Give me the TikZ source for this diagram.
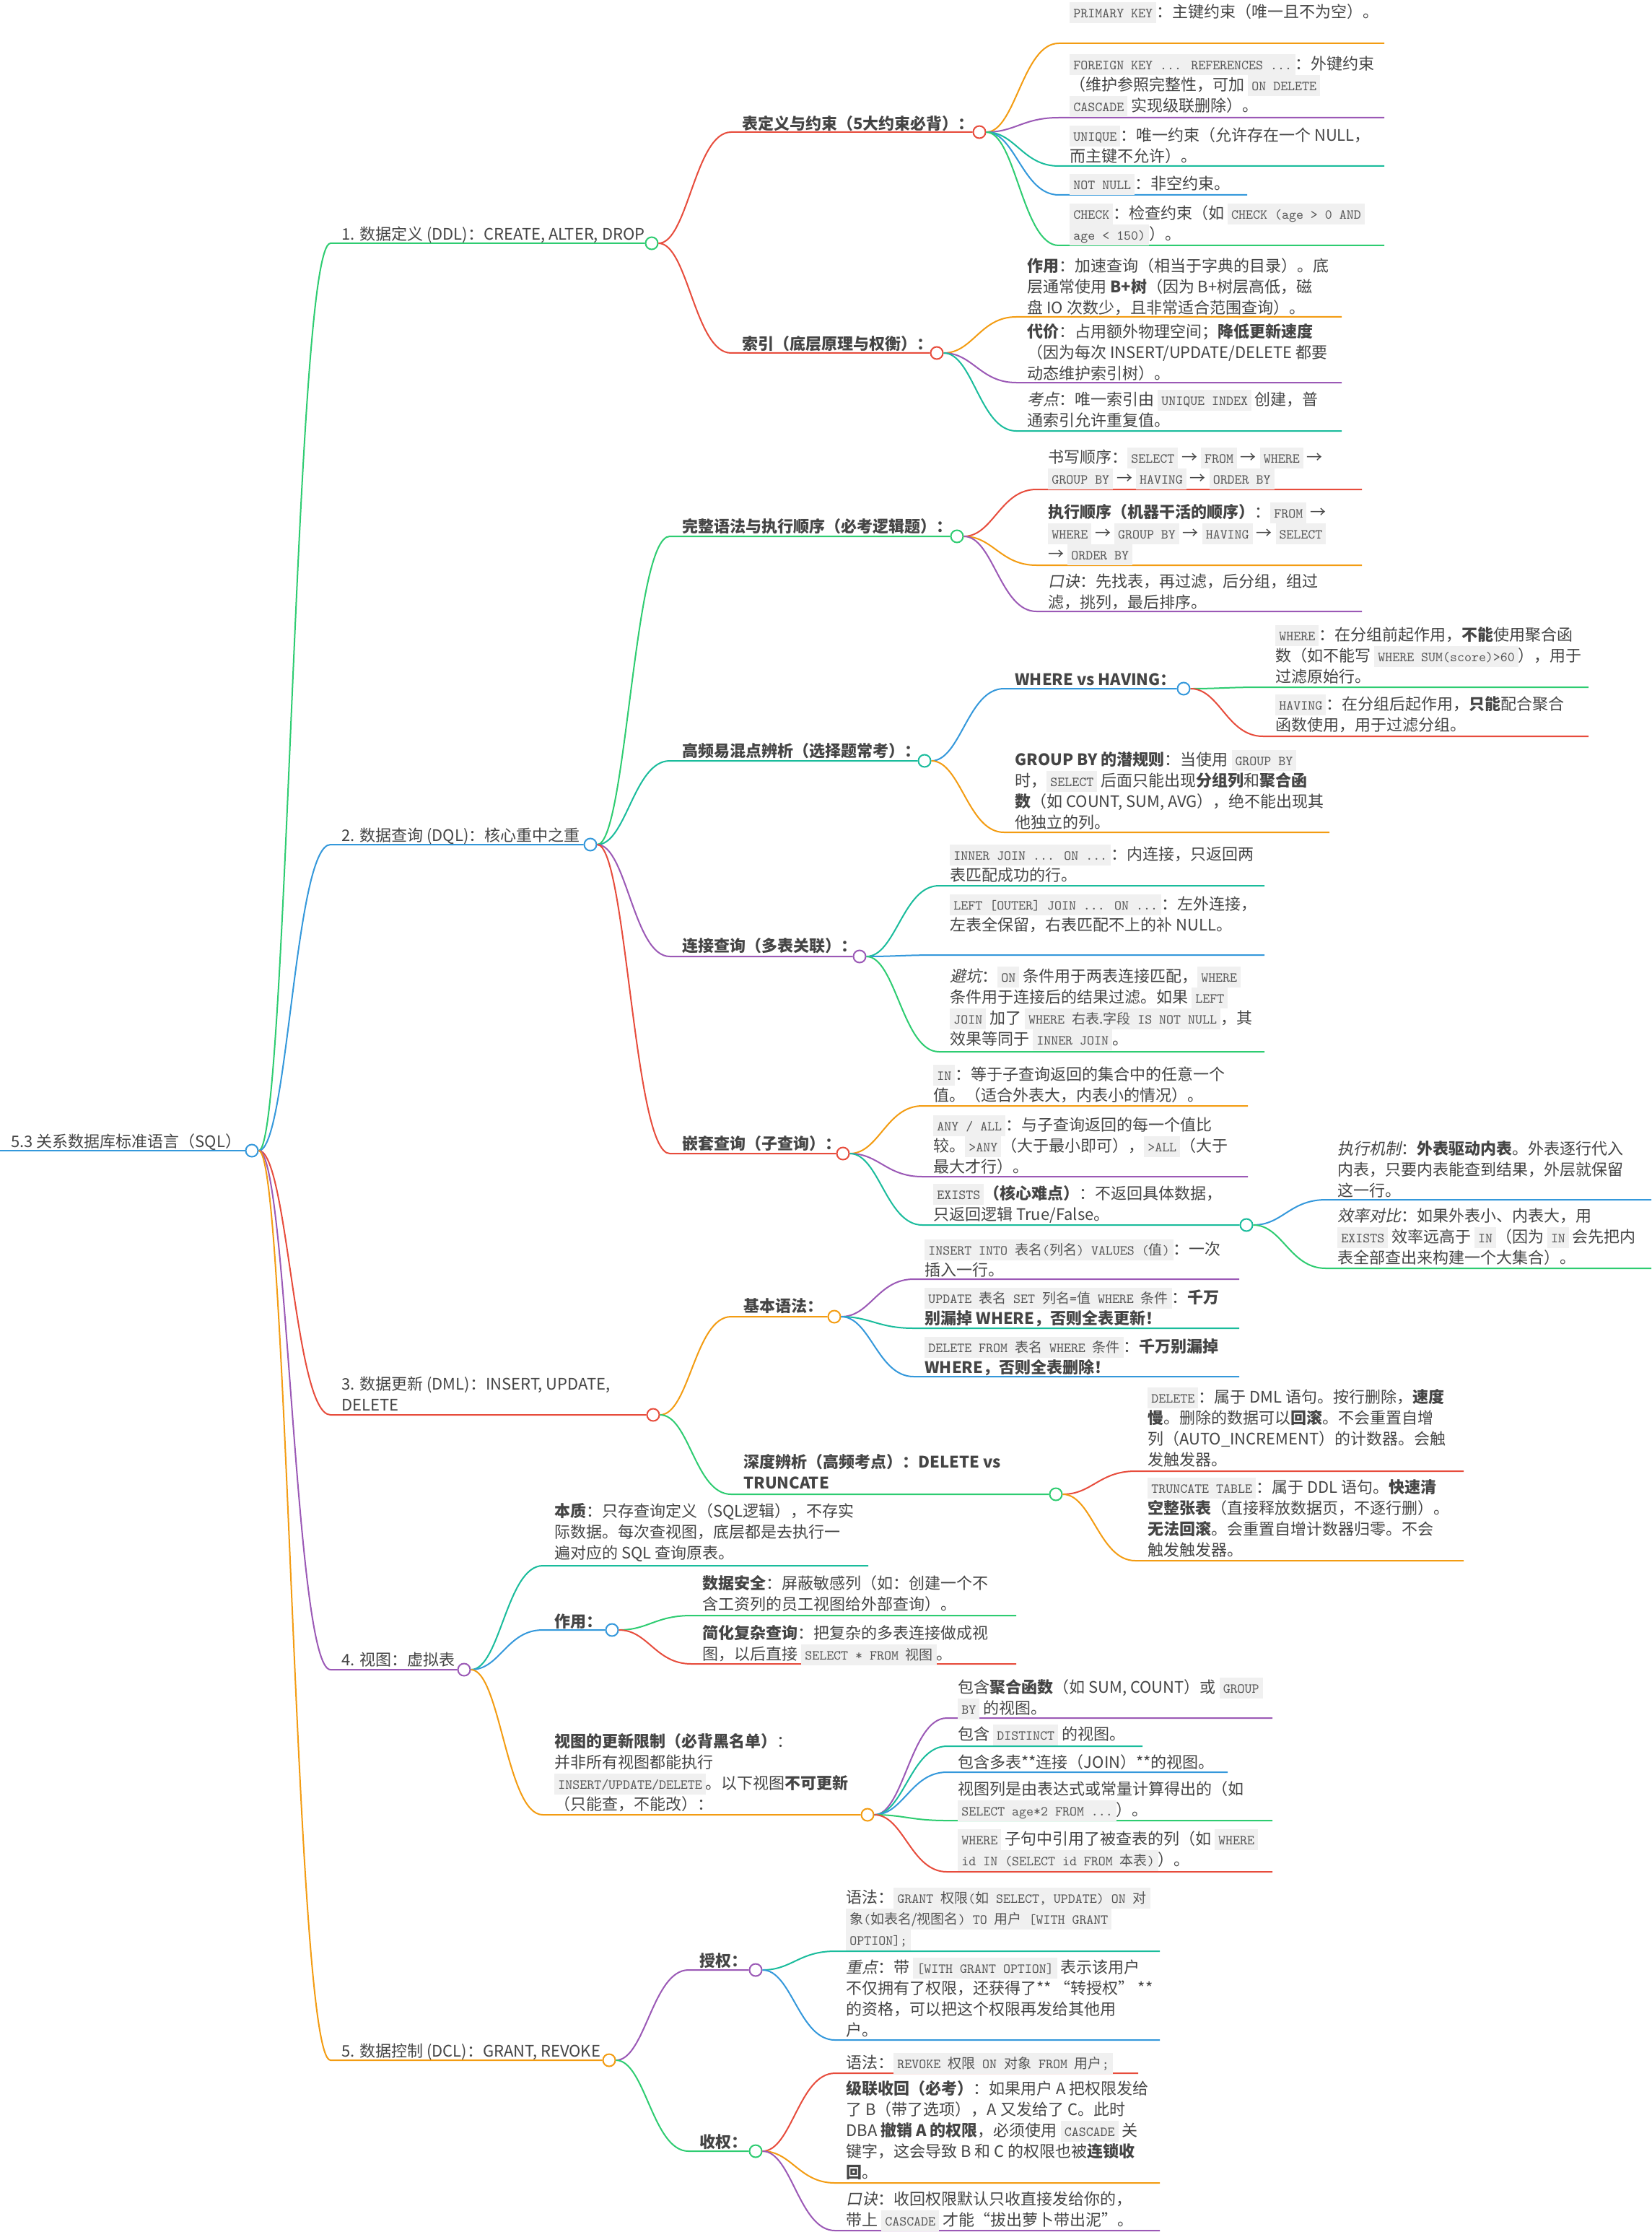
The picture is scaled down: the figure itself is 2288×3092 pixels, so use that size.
\documentclass[tikz,border=0pt]{standalone}
\usepackage{fontspec}
\setmainfont{Noto Sans CJK SC}[AutoFakeSlant=0.2]
\definecolor{cred}{HTML}{E74C3C}
\definecolor{corange}{HTML}{F39C12}
\definecolor{cgreen}{HTML}{2ECC71}
\definecolor{cteal}{HTML}{1ABC9C}
\definecolor{cblue}{HTML}{3498DB}
\definecolor{cpurple}{HTML}{9B59B6}
\definecolor{ink}{HTML}{454545}
\definecolor{codebg}{HTML}{F0F0F0}
\definecolor{codefg}{HTML}{555555}
\newcommand\code[1]{{\fboxsep=0pt\colorbox{codebg}{\rule[-3.8pt]{0pt}{14.5pt}\hspace{2.5pt}\ttfamily\fontsize{9.5}{14.5}\selectfont\color{codefg}#1\hspace{2.5pt}}}}
\newcommand\zh[1]{{\rmfamily #1}}

\begin{document}
\begin{tikzpicture}[x=0.5pt, y=-0.5pt,
  txt/.style={anchor=south west, inner sep=0pt, align=left, text depth=1.5pt,
              text=ink, font=\fontsize{11}{14.5}\selectfont},
  head/.style={txt, font=\fontsize{11}{14.5}\selectfont\bfseries},
  knot/.style={circle, draw, fill=white, line width=1pt, minimum size=8.5pt, inner sep=0pt},
  wire/.style={line width=1pt},
]
\path[use as bounding box, fill=white] (0,0) rectangle (2288,3092);

\coordinate (root) at (0,1594);
\node[knot, draw=cblue] (root-k) at (349,1594) {};
\draw[wire, cblue] (root) -- (root-k);
\node[txt] (root-t) at (15,1593) {5.3 关系数据库标准语言（SQL）};

\coordinate (ddl) at (458,337);
\node[knot, draw=cgreen] (ddl-k) at (903,337) {};
\draw[wire, cgreen] (root-k) .. controls +(50,0) and +(-50,0) .. (ddl) -- (ddl-k);
\node[txt] (ddl-t) at (473,336) {1. 数据定义 (DDL)：CREATE, ALTER, DROP};

\coordinate (tbl) at (1013,183);
\node[knot, draw=cred] (tbl-k) at (1357,183) {};
\draw[wire, cred] (ddl-k) .. controls +(50,0) and +(-50,0) .. (tbl) -- (tbl-k);
\node[head] (tbl-t) at (1028,183) {表定义与约束（5大约束必背）：};

\coordinate (pk) at (1467,60);
\draw[wire, corange] (tbl-k) .. controls +(50,0) and +(-50,0) .. (pk) -- ++(451,0);
\node[txt] (pk-t) at (1482,28) {\code{PRIMARY KEY}：主键约束（唯一且不为空）。};

\coordinate (fk) at (1467,163);
\draw[wire, cpurple] (tbl-k) .. controls +(50,0) and +(-50,0) .. (fk) -- ++(451,0);
\node[txt] (fk-t) at (1482,158) {\code{FOREIGN KEY ... REFERENCES ...}：外键约束\\（维护参照完整性，可加 \code{ON DELETE}\\\code{CASCADE} 实现级联删除）。};

\coordinate (uq) at (1467,230);
\draw[wire, cteal] (tbl-k) .. controls +(50,0) and +(-50,0) .. (uq) -- ++(451,0);
\node[txt] (uq-t) at (1482,228) {\code{UNIQUE}：唯一约束（允许存在一个 NULL，\\而主键不允许）。};

\coordinate (nn) at (1467,270);
\draw[wire, cblue] (tbl-k) .. controls +(50,0) and +(-50,0) .. (nn) -- ++(261,0);
\node[txt] (nn-t) at (1482,266) {\code{NOT NULL}：非空约束。};

\coordinate (ck) at (1467,340);
\draw[wire, cgreen] (tbl-k) .. controls +(50,0) and +(-50,0) .. (ck) -- ++(451,0);
\node[txt] (ck-t) at (1482,336) {\code{CHECK}：检查约束（如 \code{CHECK (age > 0 AND}\\\code{age < 150)}）。};

\coordinate (idx) at (1013,489);
\node[knot, draw=cred] (idx-k) at (1298,489) {};
\draw[wire, cred] (ddl-k) .. controls +(50,0) and +(-50,0) .. (idx) -- (idx-k);
\node[head] (idx-t) at (1028,488) {索引（底层原理与权衡）：};

\coordinate (role) at (1408,439);
\draw[wire, corange] (idx-k) .. controls +(50,0) and +(-50,0) .. (role) -- ++(451,0);
\node[txt] (role-t) at (1423,438) {\textbf{作用}：加速查询（相当于字典的目录）。底\\层通常使用 \textbf{B+树}（因为 B+树层高低，磁\\盘 IO 次数少，且非常适合范围查询）。};

\coordinate (cost) at (1408,530);
\draw[wire, cpurple] (idx-k) .. controls +(50,0) and +(-50,0) .. (cost) -- ++(451,0);
\node[txt] (cost-t) at (1423,529) {\textbf{代价}：占用额外物理空间；\textbf{降低更新速度}\\（因为每次 INSERT/UPDATE/DELETE 都要\\动态维护索引树）。};

\coordinate (exam) at (1408,597);
\draw[wire, cteal] (idx-k) .. controls +(50,0) and +(-50,0) .. (exam) -- ++(451,0);
\node[txt] (exam-t) at (1423,594) {\textit{考点}：唯一索引由 \code{UNIQUE INDEX} 创建，普\\通索引允许重复值。};

\coordinate (dql) at (458,1170);
\node[knot, draw=cblue] (dql-k) at (818,1170) {};
\draw[wire, cblue] (root-k) .. controls +(50,0) and +(-50,0) .. (dql) -- (dql-k);
\node[txt] (dql-t) at (473,1169) {2. 数据查询 (DQL)：核心重中之重};

\coordinate (syn) at (928,743);
\node[knot, draw=cgreen] (syn-k) at (1326,743) {};
\draw[wire, cgreen] (dql-k) .. controls +(50,0) and +(-50,0) .. (syn) -- (syn-k);
\node[head] (syn-t) at (945,741) {完整语法与执行顺序（必考逻辑题）：};

\coordinate (wr) at (1436,678);
\draw[wire, cred] (syn-k) .. controls +(50,0) and +(-50,0) .. (wr) -- ++(451,0);
\node[txt] (wr-t) at (1452,674) {书写顺序：\code{SELECT} → \code{FROM} → \code{WHERE} →\\\code{GROUP BY} → \code{HAVING} → \code{ORDER BY}};

\coordinate (ex) at (1436,783);
\draw[wire, corange] (syn-k) .. controls +(50,0) and +(-50,0) .. (ex) -- ++(451,0);
\node[txt] (ex-t) at (1452,779) {\textbf{执行顺序（机器干活的顺序）}：\code{FROM} →\\\code{WHERE} → \code{GROUP BY} → \code{HAVING} → \code{SELECT}\\→ \code{ORDER BY}};

\coordinate (mn) at (1436,847);
\draw[wire, cpurple] (syn-k) .. controls +(50,0) and +(-50,0) .. (mn) -- ++(451,0);
\node[txt] (mn-t) at (1452,846) {\textit{口诀}：先找表，再过滤，后分组，组过\\滤，挑列，最后排序。};

\coordinate (cmp) at (928,1054);
\node[knot, draw=cteal] (cmp-k) at (1281,1054) {};
\draw[wire, cteal] (dql-k) .. controls +(50,0) and +(-50,0) .. (cmp) -- (cmp-k);
\node[head] (cmp-t) at (945,1052) {高频易混点辨析（选择题常考）：};

\coordinate (wh) at (1391,954);
\node[knot, draw=cblue] (wh-k) at (1640,954) {};
\draw[wire, cblue] (cmp-k) .. controls +(50,0) and +(-50,0) .. (wh) -- (wh-k);
\node[head] (wh-t) at (1406,953) {WHERE vs HAVING：};

\coordinate (whr) at (1750,952);
\draw[wire, cgreen] (wh-k) .. controls +(50,0) and +(-50,0) .. (whr) -- ++(451,0);
\node[txt] (whr-t) at (1767,949) {\code{WHERE}：在分组前起作用，\textbf{不能}使用聚合函\\数（如不能写 \code{WHERE SUM(score)>60}），用于\\过滤原始行。};

\coordinate (hav) at (1750,1020);
\draw[wire, cred] (wh-k) .. controls +(50,0) and +(-50,0) .. (hav) -- ++(451,0);
\node[txt] (hav-t) at (1767,1016) {\code{HAVING}：在分组后起作用，\textbf{只能}配合聚合\\函数使用，用于过滤分组。};

\coordinate (gb) at (1391,1153);
\draw[wire, corange] (cmp-k) .. controls +(50,0) and +(-50,0) .. (gb) -- ++(451,0);
\node[txt] (gb-t) at (1406,1151) {\textbf{GROUP BY 的潜规则}：当使用 \code{GROUP BY}\\时，\code{SELECT} 后面只能出现\textbf{分组列}和\textbf{聚合函}\\\textbf{数}（如 COUNT, SUM, AVG），绝不能出现其\\他独立的列。};

\coordinate (join) at (928,1325);
\node[knot, draw=cpurple] (join-k) at (1191,1325) {};
\draw[wire, cpurple] (dql-k) .. controls +(50,0) and +(-50,0) .. (join) -- (join-k);
\node[head] (join-t) at (945,1322) {连接查询（多表关联）：};

\coordinate (inn) at (1301,1227);
\draw[wire, cteal] (join-k) .. controls +(50,0) and +(-50,0) .. (inn) -- ++(451,0);
\node[txt] (inn-t) at (1316,1224) {\code{INNER JOIN ... ON ...}：内连接，只返回两\\表匹配成功的行。};

\coordinate (lft) at (1301,1323);
\draw[wire, cblue] (join-k) .. controls +(50,0) and +(-50,0) .. (lft) -- ++(451,0);
\node[txt] (lft-t) at (1316,1293) {\code{LEFT [OUTER] JOIN ... ON ...}：左外连接，\\左表全保留，右表匹配不上的补 NULL。};

\coordinate (pit) at (1301,1457);
\draw[wire, cgreen] (join-k) .. controls +(50,0) and +(-50,0) .. (pit) -- ++(451,0);
\node[txt] (pit-t) at (1316,1451) {\textit{避坑}：\code{ON} 条件用于两表连接匹配，\code{WHERE}\\条件用于连接后的结果过滤。如果 \code{LEFT}\\\code{JOIN} 加了 \code{WHERE \zh{右表.字段} IS NOT NULL}，其\\效果等同于 \code{INNER JOIN}。};

\coordinate (sub) at (928,1598);
\node[knot, draw=cred] (sub-k) at (1168,1598) {};
\draw[wire, cred] (dql-k) .. controls +(50,0) and +(-50,0) .. (sub) -- (sub-k);
\node[head] (sub-t) at (945,1596) {嵌套查询（子查询）：};

\coordinate (sin) at (1278,1532);
\draw[wire, corange] (sub-k) .. controls +(50,0) and +(-50,0) .. (sin) -- ++(451,0);
\node[txt] (sin-t) at (1293,1529) {\code{IN}：等于子查询返回的集合中的任意一个\\值。（适合外表大，内表小的情况）。};

\coordinate (any) at (1278,1630);
\draw[wire, cpurple] (sub-k) .. controls +(50,0) and +(-50,0) .. (any) -- ++(451,0);
\node[txt] (any-t) at (1293,1628) {\code{ANY / ALL}：与子查询返回的每一个值比\\较。\code{>ANY}（大于最小即可），\code{>ALL}（大于\\最大才行）。};

\coordinate (exs) at (1278,1697);
\node[knot, draw=cteal] (exs-k) at (1727,1697) {};
\draw[wire, cteal] (sub-k) .. controls +(50,0) and +(-50,0) .. (exs) -- (exs-k);
\node[txt] (exs-t) at (1293,1694) {\code{EXISTS}\textbf{（核心难点）}：不返回具体数据，\\只返回逻辑 True/False。};

\coordinate (mech) at (1837,1662);
\draw[wire, cblue] (exs-k) .. controls +(50,0) and +(-50,0) .. (mech) -- ++(451,0);
\node[txt] (mech-t) at (1853,1661) {\textit{执行机制}：\textbf{外表驱动内表}。外表逐行代入\\内表，只要内表能查到结果，外层就保留\\这一行。};

\coordinate (eff) at (1837,1757);
\draw[wire, cgreen] (exs-k) .. controls +(50,0) and +(-50,0) .. (eff) -- ++(451,0);
\node[txt] (eff-t) at (1853,1754) {\textit{效率对比}：如果外表小、内表大，用\\\code{EXISTS} 效率远高于 \code{IN}（因为 \code{IN} 会先把内\\表全部查出来构建一个大集合）。};

\coordinate (dml) at (458,1960);
\node[knot, draw=cred] (dml-k) at (905,1960) {};
\draw[wire, cred] (root-k) .. controls +(50,0) and +(-50,0) .. (dml) -- (dml-k);
\node[txt] (dml-t) at (473,1958) {3. 数据更新 (DML)：INSERT, UPDATE,\\DELETE};

\coordinate (bas) at (1013,1824);
\node[knot, draw=corange] (bas-k) at (1156,1824) {};
\draw[wire, corange] (dml-k) .. controls +(50,0) and +(-50,0) .. (bas) -- (bas-k);
\node[head] (bas-t) at (1030,1821) {基本语法：};

\coordinate (ins) at (1266,1772);
\draw[wire, cpurple] (bas-k) .. controls +(50,0) and +(-50,0) .. (ins) -- ++(451,0);
\node[txt] (ins-t) at (1281,1771) {\code{INSERT INTO \zh{表名}(\zh{列名}) VALUES (\zh{值})}：一次\\插入一行。};

\coordinate (upd) at (1266,1840);
\draw[wire, cteal] (bas-k) .. controls +(50,0) and +(-50,0) .. (upd) -- ++(451,0);
\node[txt] (upd-t) at (1281,1838) {\code{UPDATE \zh{表名} SET \zh{列名}=\zh{值} WHERE \zh{条件}}：\textbf{千万}\\\textbf{别漏掉 WHERE，否则全表更新！}};

\coordinate (del) at (1266,1907);
\draw[wire, cblue] (bas-k) .. controls +(50,0) and +(-50,0) .. (del) -- ++(451,0);
\node[txt] (del-t) at (1281,1906) {\code{DELETE FROM \zh{表名} WHERE \zh{条件}}：\textbf{千万别漏掉}\\\textbf{WHERE，否则全表删除！}};

\coordinate (dvt) at (1013,2070);
\node[knot, draw=cgreen] (dvt-k) at (1463,2070) {};
\draw[wire, cgreen] (dml-k) .. controls +(50,0) and +(-50,0) .. (dvt) -- (dvt-k);
\node[head] (dvt-t) at (1030,2066) {深度辨析（高频考点）：DELETE vs\\TRUNCATE};

\coordinate (dl) at (1573,2038);
\draw[wire, cred] (dvt-k) .. controls +(50,0) and +(-50,0) .. (dl) -- ++(455,0);
\node[txt] (dl-t) at (1590,2034) {\code{DELETE}：属于 DML 语句。按行删除，\textbf{速度}\\\textbf{慢}。删除的数据可以\textbf{回滚}。不会重置自增\\列（AUTO\_INCREMENT）的计数器。会触\\发触发器。};

\coordinate (tr) at (1573,2162);
\draw[wire, corange] (dvt-k) .. controls +(50,0) and +(-50,0) .. (tr) -- ++(455,0);
\node[txt] (tr-t) at (1590,2159) {\code{TRUNCATE TABLE}：属于 DDL 语句。\textbf{快速清}\\\textbf{空整张表}（直接释放数据页，不逐行删）。\\\textbf{无法回滚}。会重置自增计数器归零。不会\\触发触发器。};

\coordinate (view) at (458,2313);
\node[knot, draw=cpurple] (view-k) at (643,2313) {};
\draw[wire, cpurple] (root-k) .. controls +(50,0) and +(-50,0) .. (view) -- (view-k);
\node[txt] (view-t) at (473,2311) {4. 视图：虚拟表};

\coordinate (ess) at (752,2169);
\draw[wire, cteal] (view-k) .. controls +(50,0) and +(-50,0) .. (ess) -- ++(451,0);
\node[txt] (ess-t) at (768,2163) {\textbf{本质}：只存查询定义（SQL逻辑），不存实\\际数据。每次查视图，底层都是去执行一\\遍对应的 SQL 查询原表。};

\coordinate (use) at (752,2258);
\node[knot, draw=cblue] (use-k) at (848,2258) {};
\draw[wire, cblue] (view-k) .. controls +(50,0) and +(-50,0) .. (use) -- (use-k);
\node[head] (use-t) at (768,2258) {作用：};

\coordinate (sec) at (958,2238);
\draw[wire, cgreen] (use-k) .. controls +(50,0) and +(-50,0) .. (sec) -- ++(450,0);
\node[txt] (sec-t) at (973,2234) {\textbf{数据安全}：屏蔽敏感列（如：创建一个不\\含工资列的员工视图给外部查询）。};

\coordinate (simp) at (958,2305);
\draw[wire, cred] (use-k) .. controls +(50,0) and +(-50,0) .. (simp) -- ++(450,0);
\node[txt] (simp-t) at (973,2303) {\textbf{简化复杂查询}：把复杂的多表连接做成视\\图，以后直接 \code{SELECT * FROM \zh{视图}}。};

\coordinate (lim) at (752,2514);
\node[knot, draw=corange] (lim-k) at (1202,2514) {};
\draw[wire, corange] (view-k) .. controls +(50,0) and +(-50,0) .. (lim) -- (lim-k);
\node[txt] (lim-t) at (768,2511) {\textbf{视图的更新限制（必背黑名单）}：\\并非所有视图都能执行\\\code{INSERT/UPDATE/DELETE}。以下视图\textbf{不可更新}\\（只能查，不能改）：};

\coordinate (agg) at (1312,2380);
\draw[wire, cpurple] (lim-k) .. controls +(50,0) and +(-50,0) .. (agg) -- ++(451,0);
\node[txt] (agg-t) at (1327,2378) {包含\textbf{聚合函数}（如 SUM, COUNT）或 \code{GROUP}\\\code{BY} 的视图。};

\coordinate (dis) at (1312,2419);
\draw[wire, cteal] (lim-k) .. controls +(50,0) and +(-50,0) .. (dis) -- ++(271,0);
\node[txt] (dis-t) at (1327,2414) {包含 \code{DISTINCT} 的视图。};

\coordinate (jn) at (1312,2455);
\draw[wire, cblue] (lim-k) .. controls +(50,0) and +(-50,0) .. (jn) -- ++(389,0);
\node[txt] (jn-t) at (1327,2453) {包含多表**连接（JOIN）**的视图。};

\coordinate (expr) at (1312,2522);
\draw[wire, cgreen] (lim-k) .. controls +(50,0) and +(-50,0) .. (expr) -- ++(451,0);
\node[txt] (expr-t) at (1327,2519) {视图列是由表达式或常量计算得出的（如\\\code{SELECT age*2 FROM ...}）。};

\coordinate (whq) at (1312,2593);
\draw[wire, cred] (lim-k) .. controls +(50,0) and +(-50,0) .. (whq) -- ++(451,0);
\node[txt] (whq-t) at (1327,2588) {\code{WHERE} 子句中引用了被查表的列（如 \code{WHERE}\\\code{id IN (SELECT id FROM \zh{本表})}）。};

\coordinate (dcl) at (458,2854);
\node[knot, draw=corange] (dcl-k) at (844,2854) {};
\draw[wire, corange] (root-k) .. controls +(50,0) and +(-50,0) .. (dcl) -- (dcl-k);
\node[txt] (dcl-t) at (473,2853) {5. 数据控制 (DCL)：GRANT, REVOKE};

\coordinate (gra) at (954,2729);
\node[knot, draw=cpurple] (gra-k) at (1047,2729) {};
\draw[wire, cpurple] (dcl-k) .. controls +(50,0) and +(-50,0) .. (gra) -- (gra-k);
\node[head] (gra-t) at (969,2728) {授权：};

\coordinate (gsyn) at (1157,2703);
\draw[wire, cteal] (gra-k) .. controls +(50,0) and +(-50,0) .. (gsyn) -- ++(450,0);
\node[txt] (gsyn-t) at (1172,2698) {语法：\code{GRANT \zh{权限}(\zh{如} SELECT, UPDATE) ON \zh{对}}\\\code{\zh{象}(\zh{如表名/视图名}) TO \zh{用户} [WITH GRANT}\\\code{OPTION];}};

\coordinate (key) at (1157,2826);
\draw[wire, cblue] (gra-k) .. controls +(50,0) and +(-50,0) .. (key) -- ++(450,0);
\node[txt] (key-t) at (1172,2824) {\textit{重点}：带 \code{[WITH GRANT OPTION]} 表示该用户\\不仅拥有了权限，还获得了** “转授权” **\\的资格，可以把这个权限再发给其他用\\户。};

\coordinate (rev) at (954,2980);
\node[knot, draw=cgreen] (rev-k) at (1047,2980) {};
\draw[wire, cgreen] (dcl-k) .. controls +(50,0) and +(-50,0) .. (rev) -- (rev-k);
\node[head] (rev-t) at (969,2979) {收权：};

\coordinate (rsyn) at (1157,2872);
\draw[wire, cred] (rev-k) .. controls +(50,0) and +(-50,0) .. (rsyn) -- ++(420,0);
\node[txt] (rsyn-t) at (1172,2869) {语法：\code{REVOKE \zh{权限} ON \zh{对象} FROM \zh{用户};}};

\coordinate (cas) at (1157,3024);
\draw[wire, corange] (rev-k) .. controls +(50,0) and +(-50,0) .. (cas) -- ++(450,0);
\node[txt] (cas-t) at (1172,3021) {\textbf{级联收回（必考）}：如果用户 A 把权限发给\\了 B（带了选项），A 又发给了 C。此时\\DBA \textbf{撤销 A 的权限}，必须使用 \code{CASCADE} 关\\键字，这会导致 B 和 C 的权限也被\textbf{连锁收}\\\textbf{回}。};

\coordinate (rmn) at (1157,3090);
\draw[wire, cpurple] (rev-k) .. controls +(50,0) and +(-50,0) .. (rmn) -- ++(450,0);
\node[txt] (rmn-t) at (1172,3087) {\textit{口诀}：收回权限默认只收直接发给你的，\\带上 \code{CASCADE} 才能“拔出萝卜带出泥”。};
\end{tikzpicture}
\end{document}
